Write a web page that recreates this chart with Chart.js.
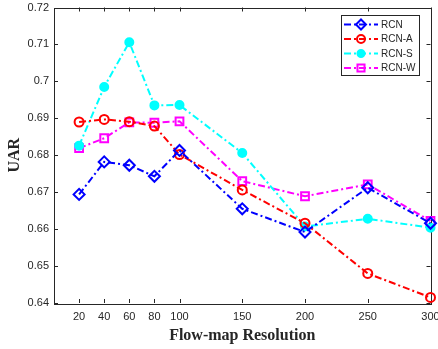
<!DOCTYPE html>
<html>
<head>
<meta charset="utf-8">
<script src="https://cdn.jsdelivr.net/npm/chart.js@4.4.1/dist/chart.umd.min.js"></script>
<style>
  html, body { margin: 0; padding: 0; background: #fff; }
  #wrap { width: 438px; height: 349px; }
</style>
</head>
<body>
<div id="wrap"><canvas id="uarChart" width="438" height="349"></canvas></div>
<script>
// values
const resolutions = [20, 40, 60, 80, 100, 150, 200, 250, 300];
const rcn  = [0.6694, 0.6782, 0.6773, 0.6743, 0.6813, 0.6655, 0.6592, 0.6712, 0.6616];
const rcnA = [0.6890, 0.6897, 0.6891, 0.6879, 0.6802, 0.6706, 0.6616, 0.6480, 0.6415];
const rcnS = [0.6826, 0.6985, 0.7106, 0.6935, 0.6936, 0.6806, 0.6607, 0.6628, 0.6604];
const rcnW = [0.6819, 0.6846, 0.6889, 0.6888, 0.6892, 0.6730, 0.6689, 0.6721, 0.6622];
const yTicks = [0.64, 0.65, 0.66, 0.67, 0.68, 0.69, 0.70, 0.71, 0.72];

const dashDot = [7, 3, 2, 3];
const axisColor = '#262626';

function series(label, values, color, style, radius, filled) {
    return {
        label: label,
        data: resolutions.map((r, i) => ({ x: r, y: values[i] })),
        borderColor: color,
        backgroundColor: color,
        borderWidth: 2,
        borderDash: dashDot,
        pointStyle: style,
        pointRadius: radius,
        pointHoverRadius: radius,
        pointBorderWidth: 2,
        pointBorderColor: color,
        pointBackgroundColor: filled ? color : 'rgba(0,0,0,0)',
        tension: 0,
        clip: false
    };
}

const datasets = [
    series('RCN', rcn, '#0000ff', 'rectRot', 5.5, false),
    series('RCN-A', rcnA, '#ff0000', 'circle', 4.5, false),
    series('RCN-S', rcnS, '#00ffff', 'circle', 4, true),
    series('RCN-W', rcnW, '#ff00ff', 'rect', 5.5, false)
];

// --- MATLAB style box with inward ticks --- //
const boxPlugin = {
    id: 'matlabBox',
    beforeDatasetsDraw(chart) {
        const { ctx, chartArea: a, scales } = chart;
        ctx.save();
        ctx.strokeStyle = axisColor;
        ctx.lineWidth = 1;
        ctx.strokeRect(Math.round(a.left) + 0.5, Math.round(a.top) + 0.5,
            Math.round(a.right - a.left), Math.round(a.bottom - a.top));
        ctx.beginPath();
        const tl = 4;
        resolutions.forEach(v => {
            const px = Math.round(scales.x.getPixelForValue(v)) + 0.5;
            ctx.moveTo(px, a.bottom); ctx.lineTo(px, a.bottom - tl);
            ctx.moveTo(px, a.top); ctx.lineTo(px, a.top + tl);
        });
        yTicks.forEach(v => {
            const py = Math.round(scales.y.getPixelForValue(v)) + 0.5;
            ctx.moveTo(a.left, py); ctx.lineTo(a.left + tl, py);
            ctx.moveTo(a.right, py); ctx.lineTo(a.right - tl, py);
        });
        ctx.stroke();
        ctx.restore();
    }
};

function drawMarker(ctx, style, x, y, r, color, filled) {
    ctx.beginPath();
    if (style === 'circle') {
        ctx.arc(x, y, r, 0, Math.PI * 2);
    } else if (style === 'rectRot') {
        ctx.moveTo(x, y - r); ctx.lineTo(x + r, y); ctx.lineTo(x, y + r); ctx.lineTo(x - r, y);
        ctx.closePath();
    } else {
        const s = r * Math.SQRT1_2;
        ctx.rect(x - s, y - s, 2 * s, 2 * s);
    }
    if (filled) { ctx.fillStyle = color; ctx.fill(); }
    ctx.stroke();
}

// --- boxed legend in the top right corner --- //
const legendPlugin = {
    id: 'boxLegend',
    afterDatasetsDraw(chart) {
        const ctx = chart.ctx;
        const bx = 341, by = 15, bw = 78, bh = 60;
        ctx.save();
        ctx.fillStyle = '#fff';
        ctx.fillRect(bx, by, bw, bh);
        ctx.strokeStyle = axisColor;
        ctx.lineWidth = 1;
        ctx.strokeRect(bx + 0.5, by + 0.5, bw, bh);
        ctx.font = '10px "Liberation Sans", Arial, sans-serif';
        ctx.textBaseline = 'middle';
        datasets.forEach((ds, i) => {
            const y = by + 9.5 + i * 14.5;
            ctx.strokeStyle = ds.borderColor;
            ctx.lineWidth = 2;
            ctx.setLineDash(dashDot);
            ctx.beginPath();
            ctx.moveTo(bx + 3, y); ctx.lineTo(bx + 37, y);
            ctx.stroke();
            ctx.setLineDash([]);
            drawMarker(ctx, ds.pointStyle, bx + 20, y, ds.pointRadius - 0.5, ds.borderColor,
                ds.pointBackgroundColor !== 'rgba(0,0,0,0)');
            ctx.fillStyle = axisColor;
            ctx.fillText(ds.label, bx + 40, y + 0.5);
        });
        ctx.restore();
    }
};

new Chart(document.getElementById('uarChart').getContext('2d'), {
    type: 'line',
    data: { datasets: datasets },
    options: {
        responsive: false,
        animation: false,
        events: [],
        layout: { padding: { top: 6, right: 7, bottom: 0, left: 0 } },
        plugins: {
            legend: { display: false },
            tooltip: { enabled: false }
        },
        scales: {
            x: {
                type: 'linear',
                min: 0,
                max: 300,
                grid: { display: false, drawTicks: false },
                border: { display: false },
                afterBuildTicks: scale => { scale.ticks = resolutions.map(v => ({ value: v })); },
                afterFit: scale => { scale.height = 46; scale.paddingLeft = 0; scale.paddingRight = 0; },
                ticks: {
                    autoSkip: false,
                    maxRotation: 0,
                    padding: 7,
                    color: axisColor,
                    font: { family: '"Liberation Sans", Arial, sans-serif', size: 11 },
                    callback: v => String(v)
                },
                title: {
                    display: true,
                    text: 'Flow-map Resolution',
                    color: axisColor,
                    padding: { top: 0, bottom: 4 },
                    font: { family: '"Liberation Serif", "Times New Roman", serif', size: 16, weight: 'bold' }
                }
            },
            y: {
                min: 0.64,
                max: 0.72,
                grid: { display: false, drawTicks: false },
                border: { display: false },
                afterBuildTicks: scale => { scale.ticks = yTicks.map(v => ({ value: v })); },
                afterFit: scale => { scale.width = 54; scale.paddingTop = 0; scale.paddingBottom = 0; },
                ticks: {
                    padding: 5,
                    color: axisColor,
                    font: { family: '"Liberation Sans", Arial, sans-serif', size: 11 },
                    callback: v => String(parseFloat(v.toFixed(2)))
                },
                title: {
                    display: true,
                    text: 'UAR',
                    color: axisColor,
                    padding: { top: 5, bottom: 0 },
                    font: { family: '"Liberation Serif", "Times New Roman", serif', size: 16, weight: 'bold' }
                }
            }
        }
    },
    plugins: [boxPlugin, legendPlugin]
});
</script>
</body>
</html>
